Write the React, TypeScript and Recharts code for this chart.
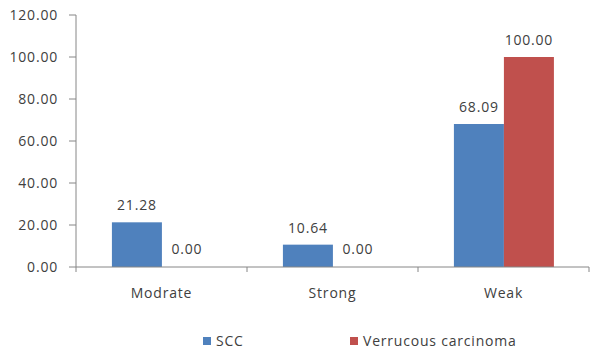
import { BarChart, Bar, XAxis, YAxis, LabelList, Legend } from "recharts";

const categories = ["Modrate", "Strong", "Weak"];
const sccValues = [21.28, 10.64, 68.09];
const verrucousValues = [0.0, 0.0, 100.0];
const yTicks = [0, 20, 40, 60, 80, 100, 120];

const data = categories.map((name, i) => ({
  name,
  scc: sccValues[i],
  verrucous: verrucousValues[i],
}));

const FONT = "'Open Sans', sans-serif";
const AXIS = "#868686";
const TEXT = "#404040";
const FS = 14;
const LS = 0.8;

// category ticks sit between the groups, like the original
function CategoryTick(props: any) {
  const { x, y, payload, index } = props;
  const half = 171 / 2;
  return (
    <g>
      <line x1={x - half} y1={y} x2={x - half} y2={y + 5} stroke={AXIS} />
      {index === categories.length - 1 && (
        <line x1={x + half} y1={y} x2={x + half} y2={y + 5} stroke={AXIS} />
      )}
      <text x={x} y={y + 31} textAnchor="middle" fill={TEXT} fontSize={FS} fontFamily={FONT} letterSpacing={LS}>
        {payload.value}
      </text>
    </g>
  );
}

function ValueLabel(props: any) {
  const { x, y, width, value } = props;
  return (
    <text
      x={Number(x) + Number(width) / 2}
      y={Number(y) - 12}
      textAnchor="middle"
      fill={TEXT}
      fontSize={FS}
      fontFamily={FONT}
      letterSpacing={LS}
    >
      {Number(value).toFixed(2)}
    </text>
  );
}

// zero bars get a 1px stub so their label is kept, but the stub is not drawn
function BarShape(props: any) {
  const { x, y, width, height, fill, value } = props;
  const v = Array.isArray(value) ? value[1] - value[0] : value;
  if (!v) return <g />;
  return <rect x={x} y={y} width={width} height={height} fill={fill} />;
}

function ChartLegend() {
  const items = [
    { label: "SCC", color: "#4F81BD", left: 203 },
    { label: "Verrucous carcinoma", color: "#C0504D", left: 350 },
  ];
  return (
    <div style={{ position: "relative", height: 24, fontFamily: FONT, fontSize: FS, letterSpacing: LS, color: TEXT }}>
      {items.map((it) => (
        <div
          key={it.label}
          style={{ position: "absolute", left: it.left, top: 2, display: "flex", alignItems: "center" }}
        >
          <span style={{ width: 8, height: 8, background: it.color, marginRight: 5, display: "inline-block" }} />
          <span>{it.label}</span>
        </div>
      ))}
    </div>
  );
}

export default function App() {
  return (
    <div style={{ position: "absolute", left: 0, top: 0, width: 590, height: 353, background: "#fff" }}>
      <BarChart
        width={590}
        height={353}
        data={data}
        margin={{ top: 15, right: 1, left: 0, bottom: 0 }}
        barCategoryGap="21%"
        barGap={0}
      >
        <XAxis
          dataKey="name"
          height={62}
          stroke={AXIS}
          tickLine={false}
          tickSize={0}
          tickMargin={0}
          tick={<CategoryTick />}
          interval={0}
        />
        <YAxis
          width={76}
          domain={[0, 120]}
          ticks={yTicks}
          stroke={AXIS}
          tickSize={7}
          tickMargin={11}
          tickFormatter={(v: number) => v.toFixed(2)}
          tick={{ fill: TEXT, fontSize: FS, fontFamily: FONT, letterSpacing: LS }}
          interval={0}
        />
        <Legend verticalAlign="bottom" height={24} content={() => <ChartLegend />} />
        <Bar dataKey="scc" name="SCC" fill="#4F81BD" isAnimationActive={false} minPointSize={1} shape={<BarShape />}>
          <LabelList dataKey="scc" content={<ValueLabel />} />
        </Bar>
        <Bar
          dataKey="verrucous"
          name="Verrucous carcinoma"
          fill="#C0504D"
          isAnimationActive={false}
          minPointSize={1}
          shape={<BarShape />}
        >
          <LabelList dataKey="verrucous" content={<ValueLabel />} />
        </Bar>
      </BarChart>
    </div>
  );
}
